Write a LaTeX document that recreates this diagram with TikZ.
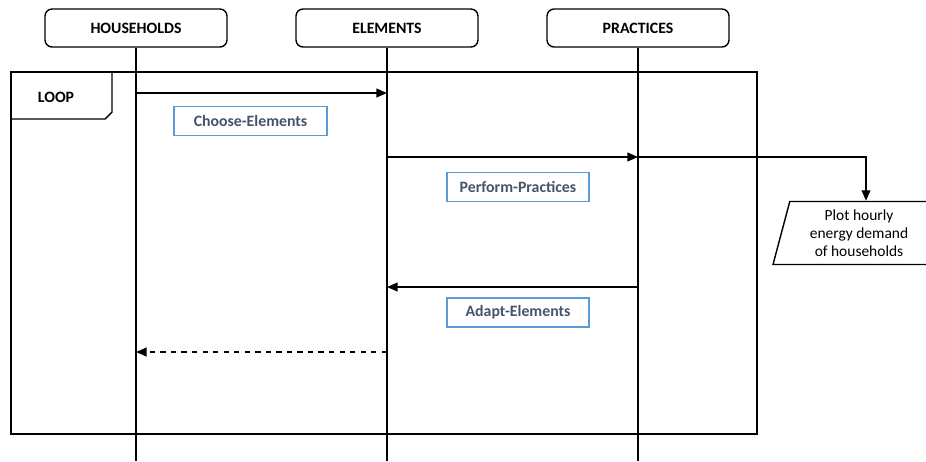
\documentclass[tikz,border=0pt]{standalone}
\usepackage{fontspec}
\setmainfont{Carlito}
\usetikzlibrary{positioning,arrows.meta,shapes.geometric}
\definecolor{ink}{HTML}{000000}
\definecolor{labelblue}{HTML}{5B9BD5}
\definecolor{labeltext}{HTML}{44546A}
\tikzset{
  actor node/.style={
    draw=ink,
    fill=white,
    rounded corners=4pt,
    line width=0.8pt,
    minimum width=3.64cm,
    minimum height=0.76cm,
    font=\fontsize{9}{10}\selectfont\bfseries,
  },
  message label/.style={
    draw=labelblue,
    fill=white,
    line width=0.6pt,
    minimum height=0.58cm,
    text=labeltext,
    font=\fontsize{9}{10}\selectfont\bfseries,
  },
  lifeline/.style={
    ink,
    line width=0.8pt,
  },
  msg/.style={
    ink,
    line width=0.8pt,
    -{Triangle[length=6pt,width=5pt]},
  },
  reply msg/.style={
    msg,
    dashed,
  },
  output node/.style={
    draw=ink,
    fill=white,
    line width=0.8pt,
    trapezium,
    trapezium left angle=74,
    trapezium right angle=106,
    trapezium stretches body,
    minimum width=3.44cm,
    minimum height=1.26cm,
    align=center,
    font=\fontsize{8.8}{10.2}\selectfont,
  },
}

\begin{document}
\begin{tikzpicture}[x=0.02cm,y=-0.02cm]
  \useasboundingbox (0,0) rectangle (926,461);

  % --- Loop frame ---
  \draw[ink, line width=0.8pt] (11,72) rectangle (757,434);
  \draw[ink, line width=0.8pt] (11,72) -- (112,72) -- (112,112) -- (105,119) -- (11,119);
  \node[font=\fontsize{9}{10}\selectfont\bfseries] (loop) at (56,97) {LOOP};

  % --- Actors ---
  \node[actor node] (hh) at (136,28) {HOUSEHOLDS};
  \node[actor node] (el) at (387,28) {ELEMENTS};
  \node[actor node] (pr) at (638,28) {PRACTICES};

  % --- Lifelines ---
  \coordinate (bottom) at (0,461);
  \foreach \a in {hh,el,pr} {
    \draw[lifeline] (\a.south) -- (\a |- bottom);
  }

  % --- Message levels ---
  \coordinate (m1) at (0,93);
  \coordinate (m2) at (0,157);
  \coordinate (m3) at (0,287);
  \coordinate (m4) at (0,352);

  % --- Output ---
  \node[output node] (plot) at (859,233) {Plot hourly\\energy demand\\of households};
  \coordinate (elbow) at (866,157);

  % --- Messages ---
  \draw[msg] (hh |- m1) -- (el |- m1);
  \draw[msg] (el |- m2) -- (pr |- m2);
  \draw[msg] (pr |- m2) -- (elbow) -- (elbow |- plot.north);
  \draw[msg] (pr |- m3) -- (el |- m3);
  \draw[reply msg] (el |- m4) -- (hh |- m4);

  % --- Message labels ---
  \node[message label, minimum width=3.06cm] (choose) at (250.5,121) {Choose-Elements};
  \node[message label, minimum width=2.84cm] (perform) at (518,187) {Perform-Practices};
  \node[message label, minimum width=2.84cm] (adapt) at (518,312.5) {Adapt-Elements};

\end{tikzpicture}
\end{document}
